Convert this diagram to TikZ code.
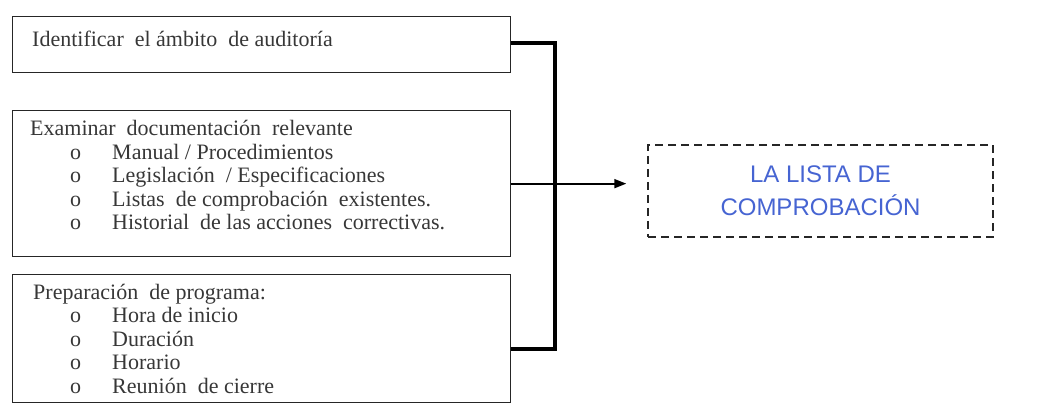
\documentclass[tikz,border=0pt]{standalone}
\usepackage{fontspec}
\setmainfont{Liberation Serif}
\newfontfamily\listafont{Liberation Sans}
\usetikzlibrary{arrows.meta,calc}

\definecolor{txtgray}{RGB}{55,55,55}
\definecolor{listablue}{RGB}{70,100,210}
\newcommand{\itm}[1]{\hspace*{40pt}\makebox[42pt][l]{o}#1}

\begin{document}
\begin{tikzpicture}[x=1pt,y=-1pt,
  box/.style={draw=black!85, line width=1.3pt, minimum width=498pt, anchor=north west, inner sep=0pt},
  txt/.style={anchor=base west, inner sep=0pt, text=txtgray, font=\fontsize{22}{23.5}\selectfont},
  bracket/.style={line width=4pt},
  flow/.style={line width=1.8pt, -{Triangle[length=12pt,width=9pt]}},
  lista/.style={draw=black!85, line width=1.4pt, dash pattern=on 8pt off 5pt, minimum width=345pt, minimum height=92pt, align=center, text=listablue, font=\listafont\fontsize{24}{33}\selectfont}]
\useasboundingbox (0,0) rectangle (1060,406);

% Boxes on the left
\node[box, minimum height=56pt] (ambito) at (12,16) {};
\node[box, minimum height=146pt] (examinar) at (12,110) {};
\node[box, minimum height=128pt] (programa) at (12,274) {};

% Texts in the boxes
\node[txt] (ambitotxt) at (32,47) {Identificar\ \ el ámbito\ \ de auditoría};
\node[txt] (examinartxt) at (30,136) {\begin{tabular}[t]{@{}l@{}}
  Examinar\ \ documentación\ \ relevante\\
  \itm{Manual / Procedimientos}\\
  \itm{Legislación\ \ / Especificaciones}\\
  \itm{Listas\ \ de comprobación\ \ existentes.}\\
  \itm{Historial\ \ de las acciones\ \ correctivas.}
\end{tabular}};
\node[txt] (programatxt) at (30,299) {\begin{tabular}[t]{@{}l@{}}
  \hspace*{3pt}Preparación\ \ de programa:\\
  \itm{Hora de inicio}\\
  \itm{Duración}\\
  \itm{Horario}\\
  \itm{Reunión\ \ de cierre}
\end{tabular}};

% Result
\node[lista] (lista) at (820.5,191) {LA LISTA DE\\COMPROBACIÓN};

% Bracket and arrow
\draw[bracket] ($(ambito.east)+(0,-2)$) -| ($(examinar.east)+(44,0)$) |- ($(programa.east)+(0,10)$);
\coordinate (tip) at ($(examinar.east -| lista.west)+(-21,0)$);
\draw[flow] (examinar.east) -- (tip);
\end{tikzpicture}
\end{document}
